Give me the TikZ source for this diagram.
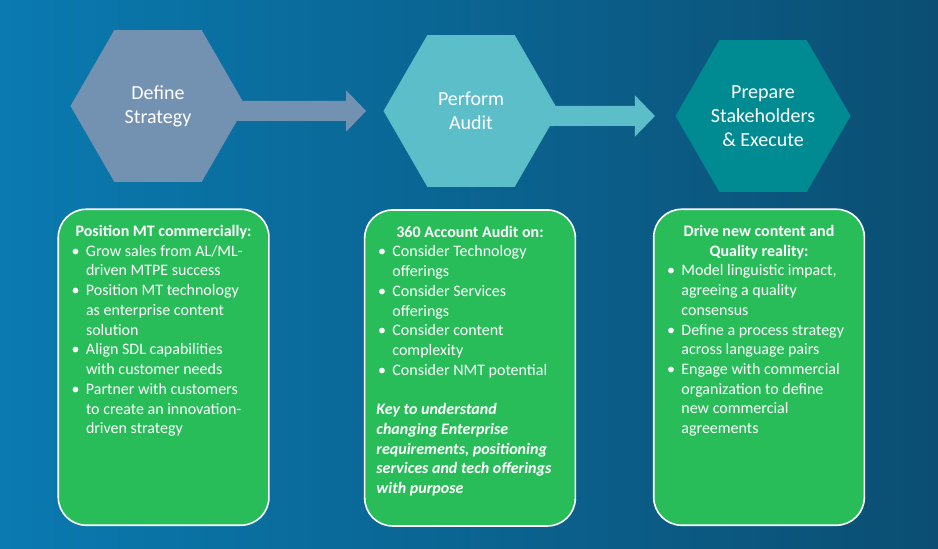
\documentclass[tikz,border=0pt]{standalone}
\usepackage{fontspec}
\setmainfont{Carlito}
\usetikzlibrary{arrows.meta, positioning, shapes.geometric}
\definecolor{bgleft}{HTML}{0A7AB0}
\definecolor{bgright}{HTML}{0B4E72}
\definecolor{stepone}{HTML}{7391B1}
\definecolor{steptwo}{HTML}{5BBEC9}
\definecolor{stepthree}{HTML}{008B92}
\definecolor{cardgreen}{HTML}{29BD5A}
\newcommand{\bul}[1]{\par\hangindent=10.8pt\hangafter=1\noindent\makebox[10.8pt][l]{\textbullet}#1}
\newcommand{\cardbody}[1]{\begin{minipage}[t][217pt][t]{158pt}\fontsize{12}{14.8}\selectfont
  \leftskip=10pt\rightskip=0pt plus 1fil\parindent=0pt\parfillskip=0pt plus 1fil #1\end{minipage}}

\begin{document}
\begin{tikzpicture}[x=0.75pt, y=-0.75pt, outer sep=0pt]
    \tikzstyle{hexa} = [regular polygon, regular polygon sides=6, minimum size=131.25pt, inner sep=0pt, text=white, align=center, font=\fontsize{15}{18}\selectfont]
    \tikzstyle{flow} = [line width=15pt, -{Triangle[length=15pt, width=30pt]}]
    \tikzstyle{card} = [rectangle, rounded corners=21pt, draw=white, line width=1.2pt, fill=cardgreen, inner xsep=0pt, inner ysep=10pt, text=white]
    \useasboundingbox (0,0) rectangle (938,549);
    \fill[left color=bgleft, right color=bgright] (0,0) rectangle (938,549);
    \node[hexa, fill=stepone] (h1) at (158,106) {Define\\Strategy};
    \node[hexa, fill=steptwo, right=103.5pt of h1, yshift=-3.75pt] (h2) {Perform\\Audit};
    \node[hexa, fill=stepthree, right=87.75pt of h2, yshift=-3.75pt] (h3) {Prepare\\Stakeholders\\\& Execute};
    \draw[flow, stepone] ([xshift=-12pt]h1.east |- h2.center) -- ([xshift=-13pt]h2.west);
    \draw[flow, steptwo] ([xshift=-12pt]h2.east |- h3.center) -- ([xshift=-15.4pt]h3.west);
    \node[card, below=20.6pt of h1, xshift=4.2pt] (c1) {\cardbody{%
        {\centering\bfseries\strut Position MT commercially:\par}
        \bul{Grow sales from AL/ML-\\driven MTPE success}
        \bul{Position MT technology\\as enterprise content\\solution}
        \bul{Align SDL capabilities\\with customer needs}
        \bul{Partner with customers\\to create an innovation-\\driven strategy}}};
    \node[card, below=17.4pt of h2, xshift=-0.75pt] (c2) {\cardbody{%
        {\centering\bfseries\strut 360 Account Audit on:\par}
        \bul{Consider Technology\\offerings}
        \bul{Consider Services\\offerings}
        \bul{Consider content\\complexity}
        \bul{Consider NMT potential}\par
        \vspace{14.8pt}
        {\leftskip=8.8pt\bfseries\itshape Key to understand\\changing Enterprise\\requirements, positioning\\services and tech offerings\\with purpose\par}}};
    \node[card, below=13.1pt of h3, xshift=-3pt] (c3) {\cardbody{%
        {\centering\bfseries\strut Drive new content and\\Quality reality:\par}
        \bul{Model linguistic impact,\\agreeing a quality\\consensus}
        \bul{Define a process strategy\\across language pairs}
        \bul{Engage with commercial\\organization to define\\new commercial\\agreements}}};
\end{tikzpicture}
\end{document}
